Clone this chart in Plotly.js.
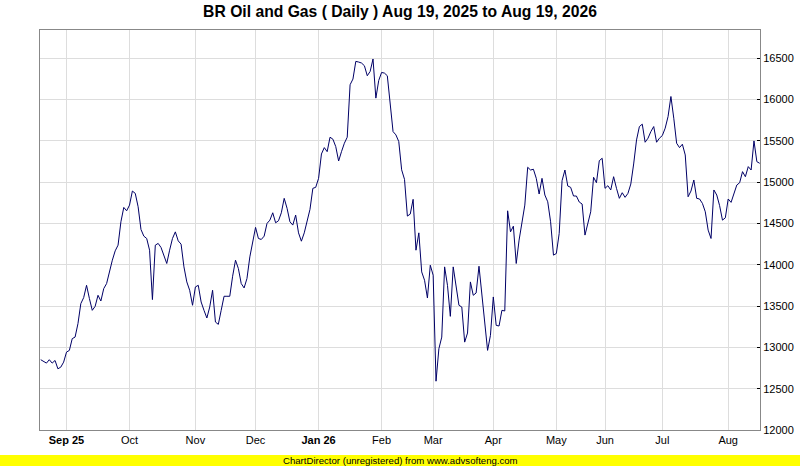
<!DOCTYPE html>
<html>
<head>
<meta charset="utf-8">
<script src="https://cdn.plot.ly/plotly-3.0.1.min.js"></script>
<style>
  html, body { margin: 0; padding: 0; background: #ffffff; }
  #chart { width: 800px; height: 466px; }
</style>
</head>
<body>
<div id="chart"></div>
<script>
// Daily closes, Aug 19, 2025 .. Aug 19, 2026 (one per trading day)
const closeAugOct = [12851, 12830, 12810, 12851, 12810, 12842, 12741, 12761, 12822, 12943, 12964, 13106, 13125, 13288, 13530, 13603, 13752, 13591, 13449, 13497, 13631, 13562, 13712, 13773, 13934, 14056, 14169, 14238, 14521, 14695, 14654, 14723, 14893, 14865, 14703, 14428, 14347, 14319, 14177, 13579, 14238, 14259];
const closeOctDec = [14210, 14110, 14016, 14177, 14319, 14399, 14290, 14250, 13975, 13793, 13692, 13510, 13732, 13752, 13550, 13449, 13356, 13489, 13692, 13307, 13279, 13449, 13619, 13619, 13619, 13862, 14056, 13955, 13773, 13720, 13834, 14096, 14259, 14453, 14319, 14307, 14347, 14501, 14541, 14630, 14509, 14533, 14630];
const closeDecFeb = [14805, 14684, 14521, 14481, 14602, 14387, 14286, 14387, 14541, 14671, 14926, 14938, 15047, 15342, 15419, 15370, 15545, 15521, 15431, 15257, 15370, 15472, 15545, 16180, 16249, 16463, 16455, 16443, 16410, 16289, 16341, 16492, 16018, 16232, 16329, 16321, 16289, 15977, 15613, 15573, 15492, 15150];
const closeFebApr = [15035, 14590, 14614, 14793, 14177, 14387, 13914, 13813, 13598, 13995, 13874, 12591, 12984, 13125, 13975, 13752, 13376, 13975, 13732, 13510, 13489, 13064, 13174, 13793, 13631, 13659, 13983, 13671, 13348, 12964, 13146, 13611, 13267, 13259, 13449, 13441, 14654, 14399, 14468, 14016, 14299];
const closeAprJun = [14501, 14723, 15181, 15148, 15157, 15047, 14857, 15047, 14845, 14763, 14521, 14117, 14137, 14380, 15018, 15148, 14954, 14938, 14833, 14833, 14760, 14736, 14360, 14521, 14642, 15060, 14994, 15261, 15290, 14926, 14958, 14906, 15067, 14926, 14805, 14873, 14817, 14865, 14978, 15221, 15512, 15674];
const closeJunAug = [15703, 15484, 15533, 15613, 15674, 15484, 15533, 15565, 15654, 15795, 16038, 15775, 15472, 15419, 15460, 15330, 14824, 14893, 15027, 14805, 14797, 14744, 14642, 14420, 14319, 14906, 14845, 14716, 14541, 14569, 14797, 14756, 14853, 14966, 14994, 15128, 15067, 15189, 15148, 15500, 15249, 15229];

// Month tick labels and the trading-day number where each month starts
const monthLabels = ['<b>Sep 25</b>', 'Oct', 'Nov', 'Dec', '<b>Jan 26</b>', 'Feb', 'Mar', 'Apr', 'May', 'Jun', 'Jul', 'Aug'];
const monthStartDay = [9, 31, 54, 75, 97, 119, 137, 158, 180, 197, 217, 240];

const titleText = 'BR Oil and Gas ( Daily ) Aug 19, 2025 to Aug 19, 2026';
const footerText = 'ChartDirector (unregistered) from www.advsofteng.com';

const closes = [].concat(closeAugOct, closeOctDec, closeDecFeb, closeFebApr, closeAprJun, closeJunAug);
const dayIndex = closes.map((_, i) => i);

const FONT = 'Liberation Sans, Arial, sans-serif';

const trace = {
  x: dayIndex,
  y: closes,
  type: 'scatter',
  mode: 'lines',
  line: { color: '#000066', width: 1 },
  hoverinfo: 'skip',
  showlegend: false
};

const layout = {
  width: 800,
  height: 466,
  margin: { l: 40, r: 40, t: 30, b: 36, pad: 0 },
  paper_bgcolor: '#ffffff',
  plot_bgcolor: '#ffffff',
  title: {
    text: '<b>' + titleText + '</b>',
    font: { family: FONT, size: 15.7, color: '#000000' },
    x: 0.5, xanchor: 'center',
    xref: 'paper',
    y: 1 - 12 / 466, yanchor: 'middle', yref: 'container'
  },
  xaxis: {
    range: [-0.25, closes.length - 1 + 0.1],
    tickmode: 'array',
    tickvals: monthStartDay,
    ticktext: monthLabels,
    showgrid: true,
    gridcolor: '#dddddd',
    gridwidth: 1,
    showline: true,
    linecolor: '#888888',
    linewidth: 1,
    mirror: true,
    ticks: '',
    zeroline: false,
    tickfont: { family: FONT, size: 11, color: '#000000' },
    fixedrange: true
  },
  yaxis: {
    side: 'right',
    range: [12000, 16843],
    tick0: 12000,
    dtick: 500,
    tickformat: 'd',
    showgrid: true,
    gridcolor: '#dddddd',
    gridwidth: 1,
    showline: true,
    linecolor: '#888888',
    linewidth: 1,
    mirror: true,
    ticks: 'inside',
    ticklen: 3,
    tickcolor: '#000000',
    zeroline: false,
    tickfont: { family: FONT, size: 11, color: '#000000' },
    fixedrange: true
  },
  shapes: [{
    type: 'rect',
    xref: 'paper', yref: 'paper',
    x0: -40 / 720, x1: 760 / 720,
    y0: (430 - 466) / 400, y1: (430 - 455) / 400,
    fillcolor: '#ffff00',
    line: { width: 0 },
    layer: 'below'
  }],
  annotations: [{
    text: footerText,
    xref: 'paper', yref: 'paper',
    x: 0.5, y: (430 - 461) / 400,
    xanchor: 'center', yanchor: 'middle',
    showarrow: false,
    font: { family: FONT, size: 9.6, color: '#000000' }
  }]
};

Plotly.newPlot('chart', [trace], layout, { displayModeBar: false, staticPlot: true });
</script>
</body>
</html>
